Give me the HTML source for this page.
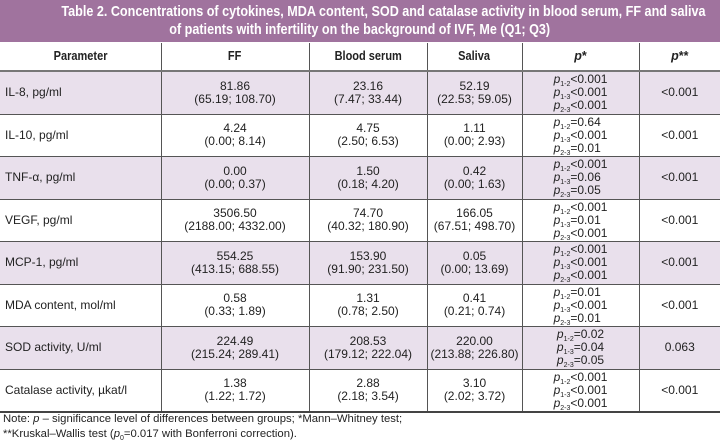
<!DOCTYPE html>
<html><head><meta charset="utf-8"><style>
body{margin:0;width:720px;height:444px;background:#fff;font-family:"Liberation Sans",sans-serif;overflow:hidden;position:relative}
.title{position:absolute;left:0;top:0;width:720px;height:42px;background:#a0739e;color:#fff;font-weight:bold;font-size:15px;line-height:18px;text-align:center;padding-top:3px;box-sizing:border-box}
.title span{display:inline-block;transform:scaleX(0.84);white-space:nowrap}
table{position:absolute;left:0;top:43px;width:720px;border-collapse:collapse;font-size:12px;color:#222;table-layout:fixed}
td,th{border-left:1px solid #555;border-right:1px solid #555;padding:0;text-align:center;line-height:13px}
td:first-child,th:first-child{border-left:none;text-align:left;padding-left:5px}
td:last-child,th:last-child{border-right:none}
th{height:27px;font-size:12.5px;border-bottom:2px solid #777}
th:first-child{text-align:center;padding-left:0}
th span{display:inline-block;transform:scaleX(0.88)}
tr.r td{height:41.5px;border-bottom:1px solid #555}
tr.s td{background:#e9e0ec}
tr.last td{border-bottom:2px solid #444}
.p{display:inline-block;text-align:left}
sub{font-size:7px;vertical-align:-3px;line-height:0}
.note{position:absolute;left:3px;top:412px;font-size:11.3px;line-height:14.5px;color:#222}
</style></head><body>
<div class="title"><span>Table 2. Concentrations of cytokines, MDA content, SOD and catalase activity in blood serum, FF and saliva</span><br><span>of patients with infertility on the background of IVF, Me (Q1; Q3)</span></div>
<table>
<colgroup><col style="width:161px"><col style="width:148px"><col style="width:118px"><col style="width:95px"><col style="width:117px"><col style="width:81px"></colgroup>
<tr><th><span>Parameter</span></th><th><span>FF</span></th><th><span>Blood serum</span></th><th><span>Saliva</span></th><th><i>p</i>*</th><th><i>p</i>**</th></tr>
<tr class="r s"><td>IL-8, pg/ml</td><td>81.86<br>(65.19; 108.70)</td><td>23.16<br>(7.47; 33.44)</td><td>52.19<br>(22.53; 59.05)</td><td><span class="p"><i>p</i><sub>1-2</sub>&lt;0.001<br><i>p</i><sub>1-3</sub>&lt;0.001<br><i>p</i><sub>2-3</sub>&lt;0.001</span></td><td>&lt;0.001</td></tr>
<tr class="r"><td>IL-10, pg/ml</td><td>4.24<br>(0.00; 8.14)</td><td>4.75<br>(2.50; 6.53)</td><td>1.11<br>(0.00; 2.93)</td><td><span class="p"><i>p</i><sub>1-2</sub>=0.64<br><i>p</i><sub>1-3</sub>&lt;0.001<br><i>p</i><sub>2-3</sub>=0.01</span></td><td>&lt;0.001</td></tr>
<tr class="r s"><td>TNF-α, pg/ml</td><td>0.00<br>(0.00; 0.37)</td><td>1.50<br>(0.18; 4.20)</td><td>0.42<br>(0.00; 1.63)</td><td><span class="p"><i>p</i><sub>1-2</sub>&lt;0.001<br><i>p</i><sub>1-3</sub>=0.06<br><i>p</i><sub>2-3</sub>=0.05</span></td><td>&lt;0.001</td></tr>
<tr class="r"><td>VEGF, pg/ml</td><td>3506.50<br>(2188.00; 4332.00)</td><td>74.70<br>(40.32; 180.90)</td><td>166.05<br>(67.51; 498.70)</td><td><span class="p"><i>p</i><sub>1-2</sub>&lt;0.001<br><i>p</i><sub>1-3</sub>=0.01<br><i>p</i><sub>2-3</sub>&lt;0.001</span></td><td>&lt;0.001</td></tr>
<tr class="r s"><td>MCP-1, pg/ml</td><td>554.25<br>(413.15; 688.55)</td><td>153.90<br>(91.90; 231.50)</td><td>0.05<br>(0.00; 13.69)</td><td><span class="p"><i>p</i><sub>1-2</sub>&lt;0.001<br><i>p</i><sub>1-3</sub>&lt;0.001<br><i>p</i><sub>2-3</sub>&lt;0.001</span></td><td>&lt;0.001</td></tr>
<tr class="r"><td>MDA content, mol/ml</td><td>0.58<br>(0.33; 1.89)</td><td>1.31<br>(0.78; 2.50)</td><td>0.41<br>(0.21; 0.74)</td><td><span class="p"><i>p</i><sub>1-2</sub>=0.01<br><i>p</i><sub>1-3</sub>&lt;0.001<br><i>p</i><sub>2-3</sub>=0.01</span></td><td>&lt;0.001</td></tr>
<tr class="r s"><td>SOD activity, U/ml</td><td>224.49<br>(215.24; 289.41)</td><td>208.53<br>(179.12; 222.04)</td><td>220.00<br>(213.88; 226.80)</td><td><span class="p"><i>p</i><sub>1-2</sub>=0.02<br><i>p</i><sub>1-3</sub>=0.04<br><i>p</i><sub>2-3</sub>=0.05</span></td><td>0.063</td></tr>
<tr class="r last"><td>Catalase activity, µkat/l</td><td>1.38<br>(1.22; 1.72)</td><td>2.88<br>(2.18; 3.54)</td><td>3.10<br>(2.02; 3.72)</td><td><span class="p"><i>p</i><sub>1-2</sub>&lt;0.001<br><i>p</i><sub>1-3</sub>&lt;0.001<br><i>p</i><sub>2-3</sub>&lt;0.001</span></td><td>&lt;0.001</td></tr>
</table>
<div class="note">Note: <i>p</i> – significance level of differences between groups; *Mann–Whitney test;<br>**Kruskal–Wallis test (<i>p</i><sub>0</sub>=0.017 with Bonferroni correction).</div>
</body></html>
